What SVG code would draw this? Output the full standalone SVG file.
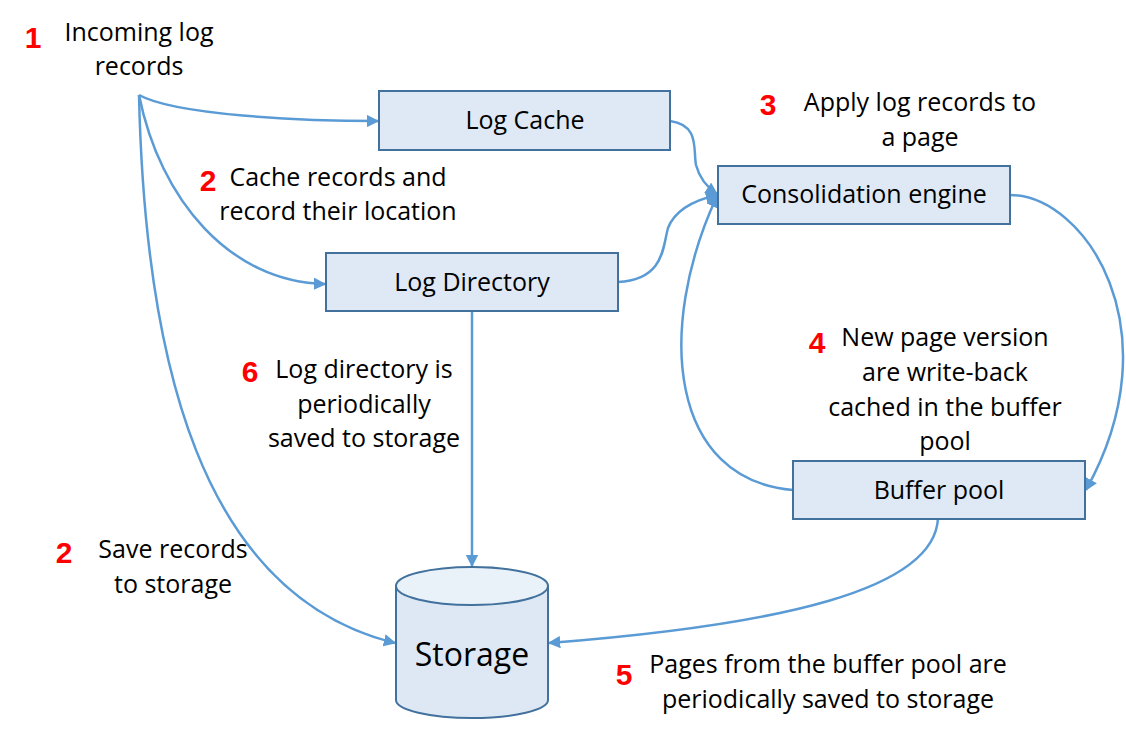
<svg xmlns="http://www.w3.org/2000/svg" width="1126" height="736" viewBox="0 0 1126 736">
<defs>
<marker id="ah" viewBox="0 0 10 10" refX="9" refY="5" markerWidth="5" markerHeight="5" orient="auto" markerUnits="strokeWidth">
<path d="M0,0 L10,5 L0,10 z" fill="#5b9bd5"/>
</marker>
</defs>
<style>
.box{fill:#dee9f5;stroke:#41719c;stroke-width:2}
.lbl{font-family:"Open Sans","Liberation Sans",Arial,sans-serif;font-size:25px;fill:#000;text-anchor:middle}
.num{font-family:"Liberation Sans",Arial,sans-serif;font-size:30px;font-weight:bold;fill:#ff0000;text-anchor:middle}
.con{fill:none;stroke:#5b9bd5;stroke-width:2.5;marker-end:url(#ah)}
</style>
<rect width="1126" height="736" fill="#fff"/>
<g id="connectors">
<path class="con" d="M139,95 C175,115 300,121 378,121"/>
<path class="con" d="M139,95 C160,200 230,282 325,284"/>
<path class="con" d="M139,95 C145,360 200,595 395,643"/>
<path class="con" d="M670,121 C700,125 693,150 696,165 C700,180 708,188 717,194"/>
<path class="con" d="M618,282 C665,280 663,245 668,228 C675,210 695,200 717,195"/>
<path class="con" d="M793,490 C670,480 655,330 717,196"/>
<path class="con" d="M1010,195 C1085,195 1175,330 1086,490"/>
<path class="con" d="M472,311 L472,566"/>
<path class="con" d="M938,518 C935,590 780,625 549,643"/>
</g>
<g id="log-cache"><rect class="box" x="379" y="91" width="291" height="59"/><text class="lbl" x="525" y="129">Log Cache</text></g>
<g id="consolidation-engine"><rect class="box" x="718" y="166" width="292" height="58"/><text class="lbl" x="864" y="203">Consolidation engine</text></g>
<g id="log-directory"><rect class="box" x="326" y="253" width="292" height="58"/><text class="lbl" x="472" y="291">Log Directory</text></g>
<g id="buffer-pool"><rect class="box" x="793" y="461" width="292" height="58"/><text class="lbl" x="939" y="499">Buffer pool</text></g>
<g id="storage">
<path d="M396,586 L396,700 A76,18 0 0 0 548,700 L548,586" fill="#dde8f4" stroke="#41719c" stroke-width="2"/>
<ellipse cx="472" cy="586" rx="76" ry="19" fill="#e9f1f9" stroke="#41719c" stroke-width="2"/>
<text class="lbl" x="472" y="666" style="font-size:32px">Storage</text>
</g>
<g id="labels">
<text class="num" x="33" y="48">1</text>
<text class="lbl" x="139" y="41">Incoming log</text>
<text class="lbl" x="139" y="75">records</text>
<text class="num" x="208" y="191">2</text>
<text class="lbl" x="338" y="186">Cache records and</text>
<text class="lbl" x="338" y="220">record their location</text>
<text class="num" x="768" y="115">3</text>
<text class="lbl" x="920" y="111">Apply log records to</text>
<text class="lbl" x="920" y="146">a page</text>
<text class="num" x="817" y="353">4</text>
<text class="lbl" x="945" y="346">New page version</text>
<text class="lbl" x="945" y="381">are write-back</text>
<text class="lbl" x="945" y="416">cached in the buffer</text>
<text class="lbl" x="945" y="450">pool</text>
<text class="num" x="250" y="382">6</text>
<text class="lbl" x="364" y="378">Log directory is</text>
<text class="lbl" x="364" y="413">periodically</text>
<text class="lbl" x="364" y="447">saved to storage</text>
<text class="num" x="64" y="563">2</text>
<text class="lbl" x="173" y="558">Save records</text>
<text class="lbl" x="173" y="593">to storage</text>
<text class="num" x="624" y="685">5</text>
<text class="lbl" x="828" y="673">Pages from the buffer pool are</text>
<text class="lbl" x="828" y="708">periodically saved to storage</text>
</g>
</svg>
